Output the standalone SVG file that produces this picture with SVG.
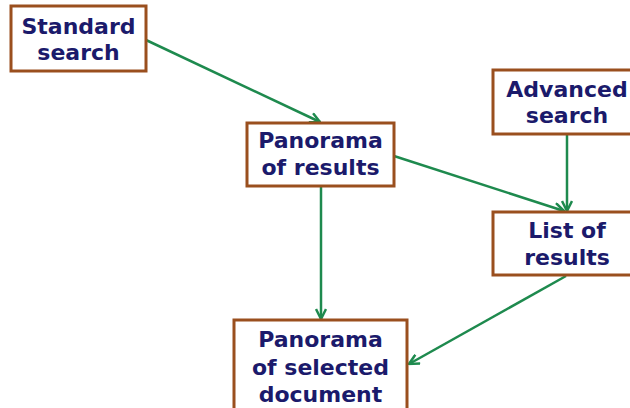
<svg xmlns="http://www.w3.org/2000/svg" width="630" height="408" viewBox="0 0 630 408">
<style>
.box{fill:#fff;stroke:#9a4f1e;stroke-width:3}
.t{font-family:"DejaVu Sans",Verdana,sans-serif;font-weight:bold;font-size:22px;fill:#1b1a6b;text-anchor:middle}
.c{stroke:#1e8a4e;stroke-width:2.5;fill:none;marker-end:url(#ah)}
</style>
<defs>
<marker id="ah" viewBox="0 0 12 12" refX="11" refY="6" markerWidth="12" markerHeight="12" markerUnits="userSpaceOnUse" orient="auto">
<path d="M1,1 L11,6 L1,11" fill="none" stroke="#1e8a4e" stroke-width="2.5"/>
</marker>
</defs>
<rect width="630" height="408" fill="#fff"/>
<g id="connectors">
<line class="c" x1="146" y1="40" x2="320" y2="122"/>
<line class="c" x1="394" y1="156" x2="564" y2="211"/>
<line class="c" x1="567" y1="135" x2="567" y2="211"/>
<line class="c" x1="321" y1="187" x2="321" y2="319"/>
<line class="c" x1="566" y1="276" x2="409" y2="364"/>
</g>
<g id="standard">
<rect class="box" x="11" y="6" width="135" height="65"/>
<text class="t" x="78.5" y="34">Standard</text>
<text class="t" x="78.5" y="60">search</text>
</g>
<g id="panorama-results">
<rect class="box" x="247" y="123" width="147" height="63"/>
<text class="t" x="320.5" y="148">Panorama</text>
<text class="t" x="320.5" y="175">of results</text>
</g>
<g id="advanced">
<rect class="box" x="493" y="70" width="150" height="64"/>
<text class="t" x="567" y="97">Advanced</text>
<text class="t" x="567" y="123">search</text>
</g>
<g id="list">
<rect class="box" x="493" y="212" width="150" height="63"/>
<text class="t" x="567" y="238">List of</text>
<text class="t" x="567" y="265">results</text>
</g>
<g id="panorama-selected">
<rect class="box" x="234" y="320" width="173" height="100"/>
<text class="t" x="320.5" y="347">Panorama</text>
<text class="t" x="320.5" y="375">of selected</text>
<text class="t" x="320.5" y="402">document</text>
</g>
</svg>
